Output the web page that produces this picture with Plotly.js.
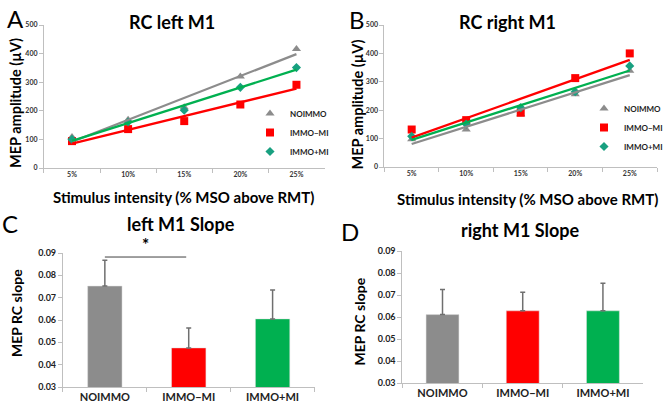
<!DOCTYPE html>
<html>
<head>
<meta charset="utf-8">
<script src="https://cdn.plot.ly/plotly-3.0.1.min.js"></script>
<style>html,body{margin:0;padding:0;background:#fff;}#chart{width:668px;height:412px;}</style>
</head>
<body>
<div id="chart"></div>
<script>
// ---- data ----
const intensities = ['5%', '10%', '15%', '20%', '25%'];
const groups = ['NOIMMO', 'IMMO\u2212MI', 'IMMO+MI'];

const leftNOIMMO = [108, 169, 212, 320, 416];
const leftIMMOminusMI = [94, 136, 164, 222, 291];
const leftIMMOplusMI = [100, 161, 202, 282, 351];

const rightNOIMMO = [98, 132, 186, 256, 339];
const rightIMMOminusMI = [132, 165, 191, 313, 400];
const rightIMMOplusMI = [108, 151, 209, 265, 356];

const leftSlope = [0.0752, 0.0475, 0.0605];
const leftSlopeErr = [0.0115, 0.0089, 0.0129];
const rightSlope = [0.0611, 0.0628, 0.0628];
const rightSlopeErr = [0.0114, 0.0085, 0.0125];

// ---- styles ----
const FONT = 'Lato, "Open Sans", sans-serif';
const colGray = '#8c8c8c';
const colRed = '#ff0000';
const colGreen = '#00b050';
const colTeal = '#18a080';
const axisCol = '#bfbfbf';
const tickCol = '#333333';

function linFit(ys) {
  const n = ys.length;
  const xs = ys.map((_, i) => i);
  const mx = xs.reduce((a, b) => a + b, 0) / n;
  const my = ys.reduce((a, b) => a + b, 0) / n;
  let sxy = 0, sxx = 0;
  for (let i = 0; i < n; i++) { sxy += (xs[i] - mx) * (ys[i] - my); sxx += (xs[i] - mx) ** 2; }
  const b = sxy / sxx, a = my - b * mx;
  return xs.map(x => a + b * x);
}

const rcSeries = [
  {name: groups[0], color: colGray, lineColor: colGray, symbol: 'triangle-up', size: 8},
  {name: groups[1], color: colRed, lineColor: colRed, symbol: 'square', size: 8},
  {name: groups[2], color: colTeal, lineColor: colGreen, symbol: 'diamond', size: 7}
];

const traces = [];
function addRC(dataArr, xa, ya, legendId) {
  dataArr.forEach((ys, i) => {
    const s = rcSeries[i];
    traces.push({
      type: 'scatter', mode: 'markers', x: intensities, y: ys, name: s.name,
      xaxis: xa, yaxis: ya, legend: legendId, legendgroup: legendId + i,
      marker: {color: s.color, symbol: s.symbol, size: s.size}, cliponaxis: false
    });
  });
  dataArr.forEach((ys, i) => {
    const s = rcSeries[i];
    traces.push({
      type: 'scatter', mode: 'lines', x: intensities, y: linFit(ys), showlegend: false,
      xaxis: xa, yaxis: ya, line: {color: s.lineColor, width: 2.3}, hoverinfo: 'skip'
    });
  });
}
addRC([leftNOIMMO, leftIMMOminusMI, leftIMMOplusMI], 'x', 'y', 'legend');
addRC([rightNOIMMO, rightIMMOminusMI, rightIMMOplusMI], 'x2', 'y2', 'legend2');

function addBars(vals, errs, xa, ya) {
  traces.push({
    type: 'bar', x: groups, y: vals, xaxis: xa, yaxis: ya, showlegend: false, width: 0.41,
    marker: {color: [colGray, colRed, colGreen], line: {color: '#e0e0e0', width: 0.5}},
    error_y: {type: 'data', symmetric: false, array: errs, arrayminus: errs.map(() => 0),
              color: '#6f6f6f', thickness: 1.5, width: 2.5}
  });
}
addBars(leftSlope, leftSlopeErr, 'x3', 'y3');
addBars(rightSlope, rightSlopeErr, 'x4', 'y4');

const W = 668, H = 412;
const px = v => v / W;
const py = v => 1 - v / H;

function rcX(d0, d1) {
  return {domain: [px(d0), px(d1)], type: 'category', range: [-0.5, 4.5], tickson: 'boundaries',
    ticks: 'outside', ticklen: 4, tickcolor: axisCol, showline: true, linecolor: axisCol, linewidth: 1,
    showgrid: false, zeroline: false, fixedrange: true,
    tickfont: {family: FONT, size: 7, color: tickCol, weight: 'bold'}};
}
function rcY(d0, d1) {
  return {domain: [py(d0), py(d1)], range: [0, 500], dtick: 100, ticks: 'outside', ticklen: 4,
    tickcolor: axisCol, showline: true, linecolor: axisCol, linewidth: 1, showgrid: false, zeroline: false,
    tickfont: {family: FONT, size: 7, color: tickCol, weight: 'bold'}};
}
function barX(d0, d1) {
  return {domain: [px(d0), px(d1)], type: 'category', range: [-0.5, 2.5], tickson: 'boundaries',
    ticks: 'outside', ticklen: 4, tickcolor: axisCol, showline: true, linecolor: axisCol, linewidth: 1,
    showgrid: false, zeroline: false,
    tickfont: {family: FONT, size: 11, color: '#222', weight: 'bold'}};
}
function barY(d0, d1) {
  return {domain: [py(d0), py(d1)], range: [0.03, 0.09], dtick: 0.01, tickformat: '.2f', ticks: 'outside',
    ticklen: 4, tickcolor: axisCol, showline: true, linecolor: axisCol, linewidth: 1, showgrid: false,
    zeroline: false, tickfont: {family: FONT, size: 9, color: '#222', weight: 'bold'}};
}

function ann(text, x, y, size, opts) {
  return Object.assign({text: text, xref: 'paper', yref: 'paper', x: px(x), y: py(y),
    xanchor: 'center', yanchor: 'middle', showarrow: false,
    font: {family: FONT, size: size, color: '#000', weight: 'bold'}}, opts || {});
}

const annotations = [
  ann('A', 16, 19, 24, {font: {family: FONT, size: 24, color: '#000'}}),
  ann('B', 358, 20, 24, {font: {family: FONT, size: 24, color: '#000'}}),
  ann('C', 10, 223, 24, {font: {family: FONT, size: 24, color: '#000'}}),
  ann('D', 351, 231, 24, {font: {family: FONT, size: 24, color: '#000'}}),
  ann('RC left M1', 172, 22, 18),
  ann('RC right M1', 508, 22, 18),
  ann('left M1 Slope', 181, 224, 18),
  ann('right M1 Slope', 521, 230, 18),
  ann('MEP amplitude (\u00b5V)', 15, 103, 14.5, {textangle: -90}),
  ann('MEP amplitude (\u00b5V)', 358, 104, 14.5, {textangle: -90}),
  ann('Stimulus intensity (% MSO above RMT)', 184, 197, 15),
  ann('Stimulus intensity (% MSO above RMT)', 528, 199, 15),
  ann('MEP RC slope', 16, 313, 14, {textangle: -90}),
  ann('MEP RC slope', 360, 321, 14, {textangle: -90}),
  {text: '*', xref: 'x3', yref: 'y3', x: 0.49, y: 0.0880, xanchor: 'center', yanchor: 'bottom',
   showarrow: false, font: {family: FONT, size: 17, color: '#000', weight: 'bold'}}
];

const shapes = [
  {type: 'line', xref: 'x3', yref: 'y3', x0: 0, x1: 0.97, y0: 0.0882, y1: 0.0882,
   line: {color: '#404040', width: 1}}
];

function legendCfg(x, y) {
  return {x: px(x), y: py(y), xanchor: 'left', yanchor: 'top', bgcolor: 'rgba(0,0,0,0)',
    font: {family: FONT, size: 8, color: '#222', weight: 'bold'}, tracegroupgap: 0,
    traceorder: 'grouped', itemwidth: 30};
}

const layout = {
  width: W, height: H, margin: {l: 0, r: 0, t: 0, b: 0},
  paper_bgcolor: '#fff', plot_bgcolor: 'rgba(0,0,0,0)', showlegend: true,
  font: {family: FONT},
  xaxis: rcX(44, 325), yaxis: rcY(168, 25),
  xaxis2: rcX(385, 658), yaxis2: rcY(167, 25),
  xaxis3: barX(63, 315), yaxis3: barY(387, 253),
  xaxis4: barX(403, 644), yaxis4: barY(383, 251),
  legend: legendCfg(250, 99),
  legend2: legendCfg(585, 94),
  annotations: annotations, shapes: shapes, bargap: 0.6
};
layout.yaxis.anchor = 'x'; layout.xaxis.anchor = 'y';
layout.yaxis2.anchor = 'x2'; layout.xaxis2.anchor = 'y2';
layout.yaxis3.anchor = 'x3'; layout.xaxis3.anchor = 'y3';
layout.yaxis4.anchor = 'x4'; layout.xaxis4.anchor = 'y4';

Plotly.newPlot('chart', traces, layout, {displayModeBar: false, staticPlot: true});
</script>
</body>
</html>
